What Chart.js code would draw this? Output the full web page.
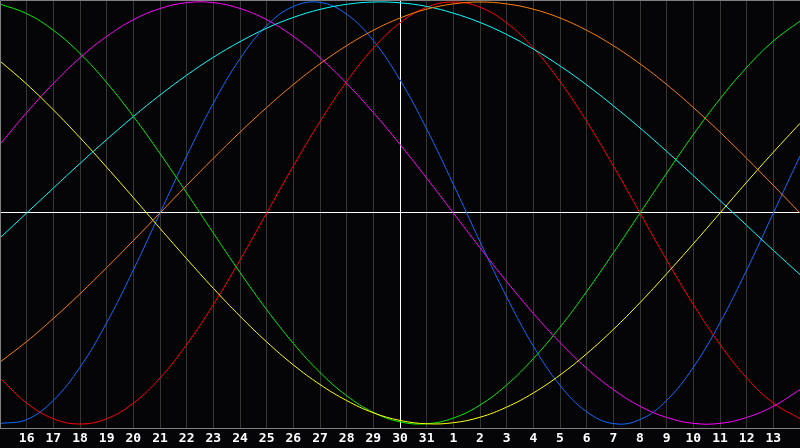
<!DOCTYPE html>
<html>
<head>
<meta charset="utf-8">
<script src="https://cdn.jsdelivr.net/npm/chart.js@4/dist/chart.umd.min.js"></script>
<style>
  html, body { margin: 0; padding: 0; background: #050508; }
  #wrap { width: 800px; height: 448px; }
</style>
</head>
<body>
<div id="wrap"><canvas id="bio"></canvas></div>
<script>
// day labels, 15th of the month through the 14th of the next
var days = ["15","16","17","18","19","20","21","22","23","24","25","26","27","28","29","30","31",
  "1","2","3","4","5","6","7","8","9","10","11","12","13","14"];

// one value per day, -1 .. 1
var physical = [-0.998,-0.979,-0.888,-0.731,-0.520,-0.270,0,0.270,0.520,0.731,0.888,0.979,0.998,0.942,0.817,0.631,
  0.398,0.136,-0.136,-0.398,-0.631,-0.817,-0.942,-0.998,-0.979,-0.888,-0.731,-0.520,-0.270,0,0.270];
var emotional = [-0.782,-0.901,-0.975,-1,-0.975,-0.901,-0.782,-0.623,-0.434,-0.223,0,0.223,0.434,0.623,0.782,0.901,
  0.975,1,0.975,0.901,0.782,0.623,0.434,0.223,0,-0.223,-0.434,-0.623,-0.782,-0.901,-0.975];
var intellectual = [0.990,0.945,0.866,0.756,0.618,0.458,0.282,0.095,-0.095,-0.282,-0.458,-0.618,-0.756,-0.866,-0.945,-0.990,
  -0.999,-0.972,-0.910,-0.815,-0.690,-0.541,-0.372,-0.189,0,0.189,0.372,0.541,0.690,0.815,0.910];
var intuitive = [0.325,0.476,0.614,0.736,0.837,0.916,0.969,0.997,0.997,0.969,0.916,0.837,0.736,0.614,0.476,0.325,
  0.165,0,-0.165,-0.325,-0.476,-0.614,-0.736,-0.837,-0.916,-0.969,-0.997,-0.997,-0.969,-0.916,-0.837];
var aesthetic = [0.720,0.611,0.489,0.357,0.217,0.073,-0.073,-0.217,-0.357,-0.489,-0.611,-0.720,-0.813,-0.889,-0.947,-0.983,
  -0.999,-0.994,-0.968,-0.920,-0.853,-0.768,-0.667,-0.552,-0.425,-0.288,-0.146,0,0.146,0.288,0.425];
var spiritual = [-0.118,0,0.118,0.235,0.348,0.457,0.559,0.653,0.738,0.812,0.876,0.927,0.965,0.989,1.000,0.996,
  0.979,0.947,0.903,0.846,0.777,0.697,0.607,0.508,0.403,0.292,0.177,0.059,-0.059,-0.177,-0.292];
var awareness = [-0.707,-0.609,-0.5,-0.383,-0.259,-0.131,0,0.131,0.259,0.383,0.5,0.609,0.707,0.793,0.866,0.924,
  0.966,0.991,1,0.991,0.966,0.924,0.866,0.793,0.707,0.609,0.5,0.383,0.259,0.131,0];

var todayIndex = 15;

function line(data, color) {
  return {
    data: data,
    borderColor: color,
    borderWidth: 1,
    pointRadius: 0,
    fill: false,
    tension: 0.4
  };
}

// gray frame round the plot
var frame = {
  id: "frame",
  afterDraw: function (chart) {
    var a = chart.chartArea;
    var ctx = chart.ctx;
    ctx.save();
    ctx.strokeStyle = "#808080";
    ctx.lineWidth = 1;
    ctx.beginPath();
    ctx.moveTo(a.left + 0.5, a.bottom);
    ctx.lineTo(a.left + 0.5, a.top + 0.5);
    ctx.lineTo(a.right, a.top + 0.5);
    ctx.moveTo(a.left, a.bottom + 0.5);
    ctx.lineTo(a.right, a.bottom + 0.5);
    ctx.stroke();
    ctx.restore();
  }
};

new Chart("bio", {
  type: "line",
  data: {
    labels: days,
    datasets: [
      line(awareness, "#ff8000"),
      line(spiritual, "#00ffff"),
      line(aesthetic, "#ffff00"),
      line(intuitive, "#ff00ff"),
      line(intellectual, "#00f000"),
      line(emotional, "#ff0000"),
      line(physical, "#0a6cff")
    ]
  },
  options: {
    responsive: true,
    maintainAspectRatio: false,
    animation: false,
    events: [],
    layout: { padding: 0 },
    plugins: {
      legend: { display: false },
      tooltip: { enabled: false }
    },
    scales: {
      x: {
        offset: false,
        afterFit: function (scale) { scale.height = 20; },
        grid: {
          drawTicks: false,
          color: function (c) {
            if (c.index === todayIndex) return "#ffffff";
            if (c.index === 0 || c.index === days.length - 1) return "transparent";
            return "#363636";
          }
        },
        border: { display: false },
        ticks: {
          autoSkip: false,
          maxRotation: 0,
          padding: 0,
          color: "#ffffff",
          font: { family: "DejaVu Sans Mono", size: 13, weight: "bold", lineHeight: 1.6 },
          callback: function (v, i) {
            return (i === 0 || i === days.length - 1) ? "" : days[i];
          }
        }
      },
      y: {
        display: true,
        min: -1.019,
        max: 1.0095,
        afterFit: function (scale) { scale.width = 0; },
        grid: {
          drawTicks: false,
          color: function (c) { return c.tick.value === 0 ? "#ffffff" : "transparent"; }
        },
        border: { display: false },
        ticks: { display: false, stepSize: 1 }
      }
    }
  },
  plugins: [frame]
});
</script>
</body>
</html>
